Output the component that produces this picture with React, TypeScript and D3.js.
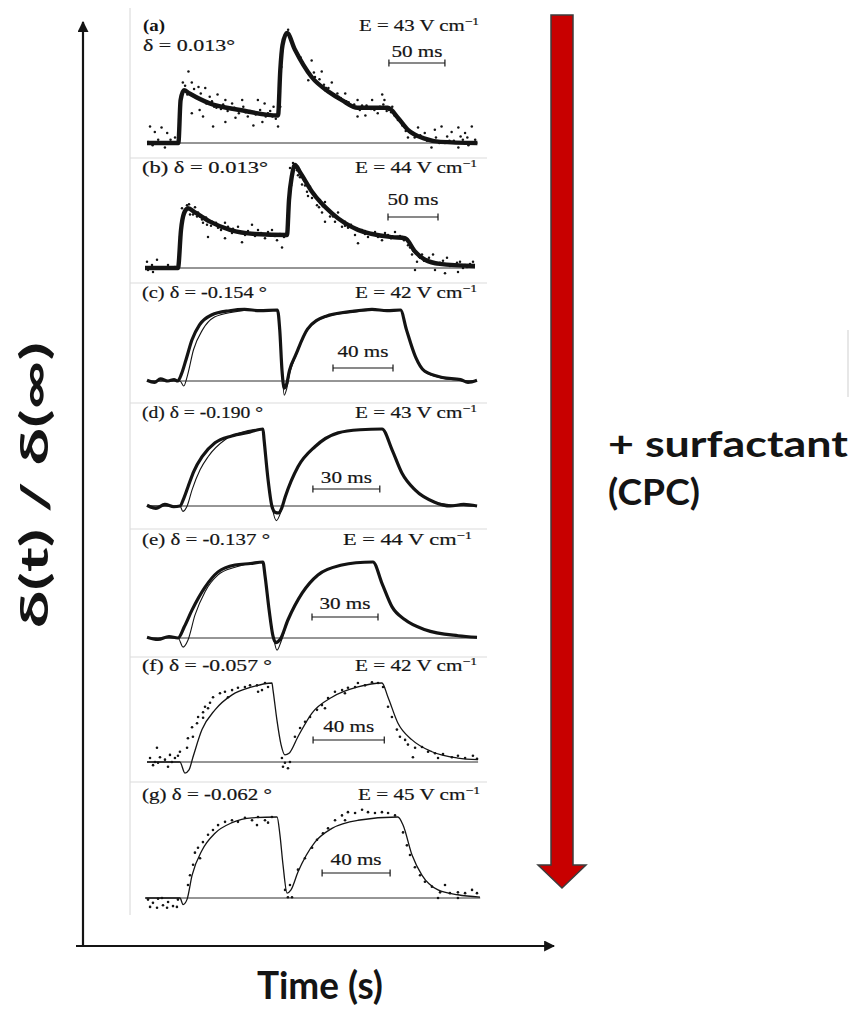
import React from "react";
import * as d3 from "d3";

type Pt = [number, number];

const W = 849;
const H = 1015;

// Transient birefringence δ(t)/δ(∞); time in ms, signal normalised per trace.

// (a) pure host, δ = 0.013°
const fitA: Pt[] = [[0,0],[28,0],[30,0.39],[33,0.48],[38,0.45],[56,0.36],[83,0.30],[117,0.25],[119,0.66],[121,0.89],[125,1.0],[132,0.85],[147,0.60],[163,0.46],[174,0.39],[188,0.32],[215,0.32],[224,0.23],[233,0.12],[248,0.04],[262,0.01],[295,0]];
const dotsA: Pt[] = [[2.7,0.15],[7,0.10],[13,0.14],[18,0.09],[1,0.01],[10,0.03],[21,0.03],[25,0.05],[16,-0.04],[5,-0.02],
  [37,0.65],[32,0.55],[40,0.55],[46,0.51],[52,0.5],[56,0.42],[63,0.44],[70,0.39],[76,0.36],[85,0.39],[99,0.39],[105,0.36],[113,0.33],
  [40,0.27],[50,0.24],[59,0.15],[70,0.19],[79,0.23],[90,0.24],[95,0.16],[103,0.19],[112,0.24],[117,0.15],[47,0.3],
  [60,0.33],[66,0.31],[88,0.28],[108,0.27],
  [119,0.33],[120,0.69],[123,0.96],[128,0.94],[132,0.85],[137,0.78],[141,0.69],[147,0.75],[144,0.57],[152,0.55],[156,0.65],[159,0.48],[165,0.55],[171,0.42],[177,0.45],[183,0.33],[188,0.39],[195,0.25],[201,0.39],[210,0.44],[212,0.39],[206,0.27],[219,0.33],[188,0.24],
  [150,0.6],[160,0.5],[170,0.45],[180,0.37],[192,0.34],[200,0.31],[208,0.33],[216,0.3],
  [224,0.21],[230,0.15],[237,0.09],[233,0.05],[242,0.14],[248,0.09],[257,0.12],[263,0.15],[272,0.10],[278,0.14],[284,0.09],[290,0.15],[293,0.03],[266,0],[278,-0.04],[254,-0.04],[287,-0.02],
  [228,0.16],[240,0.06],[252,0.03],[270,0.02],[282,0.03],
  [31,0.42],[34,0.52],[36,0.44],[42,0.49],[44,0.41],[48,0.45],[53,0.36],[58,0.38],[62,0.32],[68,0.35],[72,0.29],[78,0.32],[82,0.27],[86,0.33],[92,0.29],[97,0.26],[101,0.3],[106,0.24],[110,0.29],[115,0.22],
  [126,1.03],[130,0.9],[135,0.8],[139,0.73],[143,0.66],[149,0.64],[154,0.58],[158,0.53],[162,0.5],[167,0.44],[173,0.41],[178,0.38],[185,0.35],[190,0.3],[196,0.34],[203,0.3],[211,0.35],[214,0.29],[218,0.28],[221,0.25],
  [226,0.2],[231,0.11],[235,0.1],[239,0.05],[244,0.07],[250,0.02],[258,0.05],[261,0.0],[268,0.06],[274,0.02],[280,0.06],[286,0.05],[292,0.0]];

// (b) δ = 0.013°
const fitB: Pt[] = [[0,0],[33,0],[36,0.37],[39,0.53],[43,0.58],[50,0.54],[65,0.45],[85,0.37],[110,0.33],[142,0.32],[144,0.66],[147,0.90],[150,1.0],[155,0.93],[167,0.74],[187,0.53],[213,0.37],[247,0.30],[260,0.29],[270,0.16],[280,0.08],[295,0.04],[330,0.02]];
const dotsB: Pt[] = [[2,0.06],[7,0.03],[12,0.08],[3,-0.02],[17,0],[23,0.03],[30,0.01],[8,-0.04],
  [37,0.58],[42,0.61],[47,0.56],[50,0.59],[38,0.49],[52,0.50],[57,0.47],[62,0.42],[67,0.45],[73,0.39],[80,0.44],[87,0.34],[93,0.40],[100,0.32],[107,0.42],[113,0.37],[120,0.29],[127,0.37],[132,0.27],[137,0.20],[80,0.29],[97,0.25],[63,0.30],
  [45,0.52],[55,0.5],[70,0.42],[90,0.36],[105,0.34],[125,0.33],[140,0.31],
  [145,0.97],[148,1.02],[153,0.90],[157,0.81],[162,0.74],[167,0.68],[165,0.79],[172,0.61],[177,0.54],[180,0.64],[185,0.50],[190,0.45],[197,0.40],[203,0.39],[210,0.32],[217,0.37],[223,0.30],[230,0.35],[237,0.27],[243,0.32],[250,0.35],[257,0.30],[180,0.45],[193,0.54],[213,0.24],
  [152,0.95],[160,0.8],[175,0.66],[200,0.45],[220,0.36],[240,0.31],[255,0.31],
  [263,0.22],[267,0.13],[272,0.06],[277,0.13],[282,0.08],[288,0.13],[295,0.05],[302,0.10],[308,0.03],[315,0.06],[322,0.01],[328,0.06],[300,-0.05],[313,-0.04],[290,-0.02],[270,-0.02],
  [265,0.2],[275,0.1],[285,0.06],[310,0.03],[320,0.03],
  [35,0.3],[40,0.55],[44,0.62],[48,0.52],[53,0.54],[58,0.44],[61,0.49],[66,0.41],[71,0.44],[76,0.37],[83,0.4],[88,0.38],[95,0.35],[103,0.36],[110,0.31],[116,0.34],[123,0.35],[130,0.31],[135,0.33],[139,0.3],
  [146,0.8],[150,0.98],[155,0.88],[159,0.85],[163,0.7],[169,0.72],[174,0.59],[178,0.6],[183,0.56],[188,0.5],[195,0.47],[200,0.41],[206,0.42],[212,0.38],[220,0.33],[227,0.34],[233,0.3],[240,0.34],[246,0.29],[253,0.3],[259,0.27],
  [262,0.28],[268,0.17],[274,0.11],[279,0.07],[284,0.1],[292,0.04],[298,0.07],[305,0.02],[312,0.05],[318,0.0],[325,0.04]];

// (c) + CPC, δ = -0.154°
const fitC: Pt[] = [[0,0],[22,0],[24.5,-0.07],[27,0.08],[31,0.44],[37,0.72],[45,0.90],[57,0.97],[72,1.0],[87,1.0],[88.5,0.72],[90,0.15],[91.5,-0.2],[93,-0.12],[95,0.1],[99,0.34],[107,0.72],[119,0.90],[137,0.97],[155,1.0],[169,1.0],[173,0.72],[179,0.34],[185,0.13],[197,0.04],[209,0.01],[220,0]];
const traceC: Pt[] = [[0,0.01],[5,-0.02],[9,0.03],[14,0],[18,0.02],[20.5,0.0],[23,0.1],[26,0.3],[30,0.58],[35,0.79],[43,0.93],[55,0.99],[65,1.01],[75,0.99],[87,1.0],[88.5,0.72],[90,0.15],[91.5,-0.1],[93,-0.05],[95,0.15],[99,0.36],[107,0.73],[119,0.91],[137,0.98],[150,1.01],[160,0.99],[169,1.0],[173,0.72],[179,0.34],[185,0.14],[197,0.05],[209,0.02],[214,-0.02],[220,0.01]];

// (d) δ = -0.190°
const fitD: Pt[] = [[0,0],[14.8,0],[16.1,-0.07],[18,0],[20.2,0.21],[23.8,0.47],[27.4,0.64],[35,0.86],[41.7,0.95],[52,1.0],[52.5,0.86],[54.3,0.34],[56,0.0],[58,-0.19],[60,-0.08],[61.9,0.12],[67.7,0.51],[75.3,0.77],[85.7,0.95],[95.5,0.99],[105.4,1.0],[109.9,0.73],[114.3,0.43],[120.2,0.21],[129,0.05],[138,0.01],[148,0]];
const traceD: Pt[] = [[0,0.01],[4,-0.03],[8,0.02],[12,-0.01],[14.8,0],[16.5,0.1],[18.4,0.25],[21,0.45],[24.7,0.64],[30.5,0.82],[38,0.91],[46,0.96],[52,1.0],[52.5,0.86],[54.3,0.34],[56,0.0],[57.4,-0.08],[59,-0.09],[60.5,-0.02],[62,0.12],[67.7,0.51],[75.3,0.77],[85.7,0.95],[95.5,0.99],[105.4,1.0],[109.9,0.73],[114.3,0.43],[120.2,0.21],[129,0.05],[136,0.0],[142,0.02],[148,0]];

// (e) δ = -0.137°
const fitE: Pt[] = [[0,0],[14.1,0],[16.4,-0.12],[18.6,-0.03],[21.8,0.30],[26.4,0.61],[32.3,0.83],[40,0.93],[52.7,1.0],[53.6,0.83],[55.5,0.37],[57.3,0.04],[59.1,-0.16],[60.9,-0.05],[64.1,0.24],[70.5,0.59],[77.7,0.83],[88.6,0.96],[102.7,1.0],[106.8,0.72],[111.4,0.41],[117.3,0.24],[126.4,0.11],[141.4,0.03],[150,0]];
const traceE: Pt[] = [[0,0.01],[5,-0.02],[10,0.02],[14.1,0],[17,0.15],[20.5,0.37],[26.4,0.67],[32.3,0.87],[40,0.96],[47,0.98],[52.7,1.0],[53.6,0.83],[55.5,0.37],[57.3,0.02],[58.5,-0.06],[60.5,-0.02],[64.1,0.24],[70.5,0.59],[77.7,0.83],[88.6,0.96],[95,0.99],[102.7,1.0],[106.8,0.72],[111.4,0.41],[117.3,0.24],[126.4,0.11],[141.4,0.03],[150,0.01]];

// (f) δ = -0.057°
const fitF: Pt[] = [[0,0],[18.5,0],[21.3,-0.14],[23.6,-0.10],[25.8,0.06],[30.9,0.41],[38.2,0.66],[47.8,0.85],[59,0.95],[70.2,1.0],[70.8,0.91],[73,0.53],[75.3,0.22],[77.5,0.09],[79.8,0.11],[84.8,0.32],[92.7,0.62],[103.9,0.82],[118.5,0.95],[132,1.0],[135.4,0.82],[141,0.49],[148.9,0.28],[160.1,0.13],[174.7,0.05],[186,0.03]];
const dotsF: Pt[] = [[1.7,0.05],[4.5,0],[7.3,0.06],[10.1,0.03],[12.9,0.09],[15.7,0.05],[17.4,0.08],[3.4,-0.04],[11.8,-0.06],[6.2,-0.01],[14,0],[18.5,0.13],[5.6,0.18],
  [22.5,0.18],[23,0.30],[25.8,0.32],[25.3,0.44],[28.1,0.49],[28.7,0.57],[31.5,0.63],[32.6,0.70],[35.4,0.75],[37.1,0.82],[41,0.87],[43.8,0.89],[47.8,0.91],[51.1,0.94],[55,0.95],[57.9,0.97],[61.8,0.97],[64.6,0.91],[66.3,1.0],[68,0.95],[62.4,0.89],[45.5,0.82],[31.5,0.56],[34.3,0.68],
  [75.8,0.05],[77.5,-0.01],[79.2,-0.08],[76.4,-0.06],[80.3,0],
  [83.1,0.32],[86,0.43],[88.8,0.51],[91.6,0.57],[95.5,0.66],[98.3,0.72],[101.7,0.81],[105.6,0.89],[109.6,0.91],[112.9,0.94],[116.9,0.95],[118.5,1.0],[122.5,0.97],[126.4,1.01],[129.8,1.0],[132.6,0.95],[100,0.68],[111.2,0.87],
  [135.4,0.70],[137.6,0.57],[140.4,0.41],[142.1,0.32],[145,0.28],[146.6,0.22],[150.6,0.18],[154.5,0.19],[157.9,0.13],[161.8,0.11],[166.3,0.10],[171.3,0.06],[174.7,0.08],[178.7,0.05],[183.1,0.08],[185.4,0.04],[149.4,0.06],[163.5,0.05]];

// (g) δ = -0.062°
const fitG: Pt[] = [[-1,0],[19.4,0],[21.2,-0.08],[23.5,-0.02],[26.5,0.28],[32.4,0.59],[40,0.80],[50,0.93],[61.8,0.99],[76.5,1.0],[78.2,0.78],[80,0.41],[82.4,0.06],[84.7,0.10],[88.8,0.32],[98.8,0.69],[108.8,0.86],[124.1,0.96],[147.6,1.0],[150.6,0.90],[155.9,0.53],[161.8,0.28],[171.2,0.10],[182.9,0.04],[195.9,0.01]];
const dotsG: Pt[] = [[0.6,-0.02],[3.5,-0.06],[6.5,-0.01],[9.4,-0.09],[12.4,-0.05],[15.3,-0.10],[18.2,-0.02],[1.8,-0.11],[5.9,-0.12],[11.8,-0.12],[17.6,-0.11],[8.8,0],
  [24.1,0.16],[25.3,0.28],[27.1,0.41],[28.2,0.56],[30,0.62],[32.9,0.69],[35.9,0.78],[38.8,0.84],[41.8,0.90],[45.9,0.94],[50,0.96],[53.5,0.94],[57.6,0.99],[61.8,0.96],[65.3,1.0],[69.4,0.96],[73.5,1.0],[71.2,0.93],[64.7,0.90],[31.2,0.49],
  [81.2,0.10],[82.9,0.01],[85.3,0.01],[84.1,0.16],
  [88.8,0.35],[92.9,0.49],[97.1,0.62],[100,0.72],[103.5,0.80],[106.5,0.86],[110.6,0.96],[114.7,1.02],[118.2,1.06],[122.4,1.05],[126.5,1.09],[130,1.06],[134.1,1.05],[138.2,1.06],[141.8,1.05],[145.9,1.02],[116.5,0.96],
  [150.6,0.81],[152.9,0.65],[154.7,0.53],[157.6,0.38],[160.6,0.28],[163.5,0.20],[167.6,0.14],[172.4,0.07],[175.3,0.16],[178.2,0.06],[182.9,0.07],[187.1,0.06],[191.2,0.10],[194.1,0.06],[182.9,0],[171.2,0]];

const tags = ["(a)", "(b)", "(c)", "(d)", "(e)", "(f)", "(g)"];
const deltas = ["0.013", "0.013", "-0.154", "-0.190", "-0.137", "-0.057", "-0.062"];
const fields = [43, 44, 42, 43, 44, 42, 45];
const barMs = [50, 50, 40, 30, 30, 40, 40];

type Kind = "noisy" | "dense" | "sparse";

interface PanelSpec {
  kind: Kind;
  fit: Pt[];
  trace?: Pt[];
  dots?: Pt[];
  x0: number; k: number; base: number; unit: number; tEnd: number; tStart: number;
  barT: number; barY: number; barLabelY: number;
  labelY: number; labelW: number; fieldRight: number; fieldW: number;
  twoLine?: boolean;
}

const specs: PanelSpec[] = [
  { kind: "noisy", fit: fitA, dots: dotsA, x0: 147, k: 1.12, base: 143, unit: 110, tStart: 0, tEnd: 295, barT: 216, barY: 63, barLabelY: 57, labelY: 31, labelW: 92, fieldRight: 479, fieldW: 120, twoLine: true },
  { kind: "noisy", fit: fitB, dots: dotsB, x0: 145, k: 1.0, base: 268, unit: 103, tStart: 0, tEnd: 330, barT: 243, barY: 217, barLabelY: 205, labelY: 173, labelW: 126, fieldRight: 477, fieldW: 122 },
  { kind: "dense", fit: fitC, trace: traceC, x0: 147, k: 1.5, base: 381, unit: 71, tStart: 0, tEnd: 220, barT: 124, barY: 368, barLabelY: 357, labelY: 298, labelW: 125, fieldRight: 477, fieldW: 122 },
  { kind: "dense", fit: fitD, trace: traceD, x0: 147, k: 2.23, base: 506, unit: 77, tStart: 0, tEnd: 148, barT: 74.4, barY: 489, barLabelY: 483, labelY: 418, labelW: 121, fieldRight: 477, fieldW: 122 },
  { kind: "dense", fit: fitE, trace: traceE, x0: 147, k: 2.2, base: 638, unit: 76, tStart: 0, tEnd: 150, barT: 75, barY: 617, barLabelY: 609, labelY: 545, labelW: 128, fieldRight: 472, fieldW: 129 },
  { kind: "sparse", fit: fitF, dots: dotsF, x0: 147, k: 1.78, base: 762, unit: 79, tStart: 0, tEnd: 186, barT: 93.3, barY: 740, barLabelY: 732, labelY: 671, labelW: 130, fieldRight: 477, fieldW: 122 },
  { kind: "sparse", fit: fitG, dots: dotsG, x0: 147, k: 1.7, base: 898, unit: 81, tStart: -1, tEnd: 196, barT: 103, barY: 873, barLabelY: 865, labelY: 800, labelW: 130, fieldRight: 480, fieldW: 122 },
];

const dividerYs = [158, 283, 403, 529, 657, 782];

const SERIF = "'Liberation Serif', 'Times New Roman', serif";
const SANS = "Lato, 'Open Sans', 'Liberation Sans', sans-serif";
const INK = "#141414";
const FS = 17;

function Panel({ i, p }: { i: number; p: PanelSpec }) {
  const x = d3.scaleLinear().domain([0, 1]).range([p.x0, p.x0 + p.k]);
  const y = d3.scaleLinear().domain([0, 1]).range([p.base, p.base - p.unit]);
  const line = d3
    .line<Pt>()
    .x((d) => x(d[0]))
    .y((d) => y(d[1]))
    .curve(d3.curveMonotoneX);

  const barX1 = x(p.barT);
  const barX2 = x(p.barT + barMs[i]);
  const deltaText = `δ = ${deltas[i]}${p.kind === "noisy" ? "°" : " °"}`;
  const textStyle = { stroke: INK, strokeWidth: 0.2 };

  return (
    <g>
      {/* zero line */}
      <line x1={x(p.tStart)} x2={x(p.tEnd)} y1={y(0)} y2={y(0)} stroke={INK} strokeWidth={0.9} />

      {p.kind === "noisy" && (
        <path d={line(p.fit) || ""} fill="none" stroke={INK} strokeWidth={4.4} strokeLinejoin="round" />
      )}
      {p.trace && (
        <path d={line(p.trace) || ""} fill="none" stroke={INK} strokeWidth={3.2} strokeLinejoin="round" />
      )}
      <path d={line(p.fit) || ""} fill="none" stroke={INK} strokeWidth={p.kind === "sparse" ? 1.3 : 1.1} />
      {p.dots &&
        p.dots.map((d, j) => (
          <circle key={j} cx={x(d[0])} cy={y(d[1])} r={p.kind === "noisy" ? 1.25 : 1.3} fill={INK} />
        ))}

      {/* time scale bar */}
      <line x1={barX1} x2={barX2} y1={p.barY} y2={p.barY} stroke={INK} strokeWidth={1.2} />
      <line x1={barX1} x2={barX1} y1={p.barY - 3.5} y2={p.barY + 3.5} stroke={INK} strokeWidth={1.2} />
      <line x1={barX2} x2={barX2} y1={p.barY - 3.5} y2={p.barY + 3.5} stroke={INK} strokeWidth={1.2} />
      <text
        x={(barX1 + barX2) / 2}
        y={p.barLabelY}
        textAnchor="middle"
        fontFamily={SERIF}
        fontSize={FS}
        fill={INK}
        style={textStyle}
        textLength={51}
        lengthAdjust="spacingAndGlyphs"
      >
        {barMs[i]} ms
      </text>

      {/* panel labels */}
      {p.twoLine ? (
        <>
          <text x={143} y={p.labelY} fontFamily={SERIF} fontSize={FS} fontWeight={700} fill={INK} textLength={22} lengthAdjust="spacingAndGlyphs">
            {tags[i]}
          </text>
          <text x={143} y={p.labelY + 20} fontFamily={SERIF} fontSize={FS} fill={INK} style={textStyle} textLength={p.labelW} lengthAdjust="spacingAndGlyphs">
            {deltaText}
          </text>
        </>
      ) : (
        <text x={142} y={p.labelY} fontFamily={SERIF} fontSize={FS} fill={INK} style={textStyle} textLength={p.labelW} lengthAdjust="spacingAndGlyphs">
          {tags[i]}
          {i === 1 ? "  " : " "}
          {deltaText}
        </text>
      )}
      <text
        x={p.fieldRight}
        y={p.labelY}
        textAnchor="end"
        fontFamily={SERIF}
        fontSize={FS}
        fill={INK}
        style={textStyle}
        textLength={p.fieldW}
        lengthAdjust="spacingAndGlyphs"
      >
        E = {fields[i]} V cm
        <tspan dy={-6} fontSize={11}>
          −1
        </tspan>
      </text>
    </g>
  );
}

export default function App() {
  return (
    <div style={{ position: "absolute", left: 0, top: 0 }}>
      <svg width={W} height={H} viewBox={`0 0 ${W} ${H}`} style={{ display: "block", background: "#fff" }}>
        <defs>
          <marker id="arrowHead" viewBox="0 0 10 10" refX={9} refY={5} markerWidth={5} markerHeight={5} orient="auto-start-reverse">
            <path d="M0,0 L10,5 L0,10 Z" fill={INK} />
          </marker>
        </defs>

        {/* figure frame */}
        <line x1={130} x2={130} y1={8} y2={915} stroke="#d6d6d6" strokeWidth={1} />
        {dividerYs.map((yy) => (
          <line key={yy} x1={130} x2={487} y1={yy} y2={yy} stroke="#dcdcdc" strokeWidth={1.2} />
        ))}

        {specs.map((p, i) => (
          <Panel key={i} i={i} p={p} />
        ))}

        {/* outer axes */}
        <line x1={83} x2={83} y1={947} y2={22} stroke={INK} strokeWidth={2.2} markerEnd="url(#arrowHead)" />
        <line x1={76} x2={554} y1={946} y2={946} stroke={INK} strokeWidth={2.2} markerEnd="url(#arrowHead)" />

        <text
          transform="translate(48,485) rotate(-90)"
          textAnchor="middle"
          fontFamily={SANS}
          fontWeight={700}
          fontSize={38}
          fill={INK}
          textLength={286}
          lengthAdjust="spacingAndGlyphs"
        >
          δ(t) / δ(∞)
        </text>
        <text x={320} y={999} textAnchor="middle" fontFamily={SANS} fontWeight={700} fontSize={38} fill={INK} textLength={126} lengthAdjust="spacingAndGlyphs">
          Time (s)
        </text>

        {/* red arrow */}
        <path d="M551,15 L573,15 L573,865 L586,865 L562,888 L538,865 L551,865 Z" fill="#c80000" stroke="#3c3c3c" strokeWidth={1.5} />

        <text x={608} y={457} fontFamily={SANS} fontWeight={700} fontSize={37} fill={INK} textLength={240} lengthAdjust="spacingAndGlyphs">
          + surfactant
        </text>
        <text x={608} y={505} fontFamily={SANS} fontWeight={700} fontSize={37} fill={INK} textLength={92} lengthAdjust="spacingAndGlyphs">
          (CPC)
        </text>

        <line x1={848} x2={848} y1={330} y2={397} stroke="#cfcfcf" strokeWidth={1} />
      </svg>
    </div>
  );
}
